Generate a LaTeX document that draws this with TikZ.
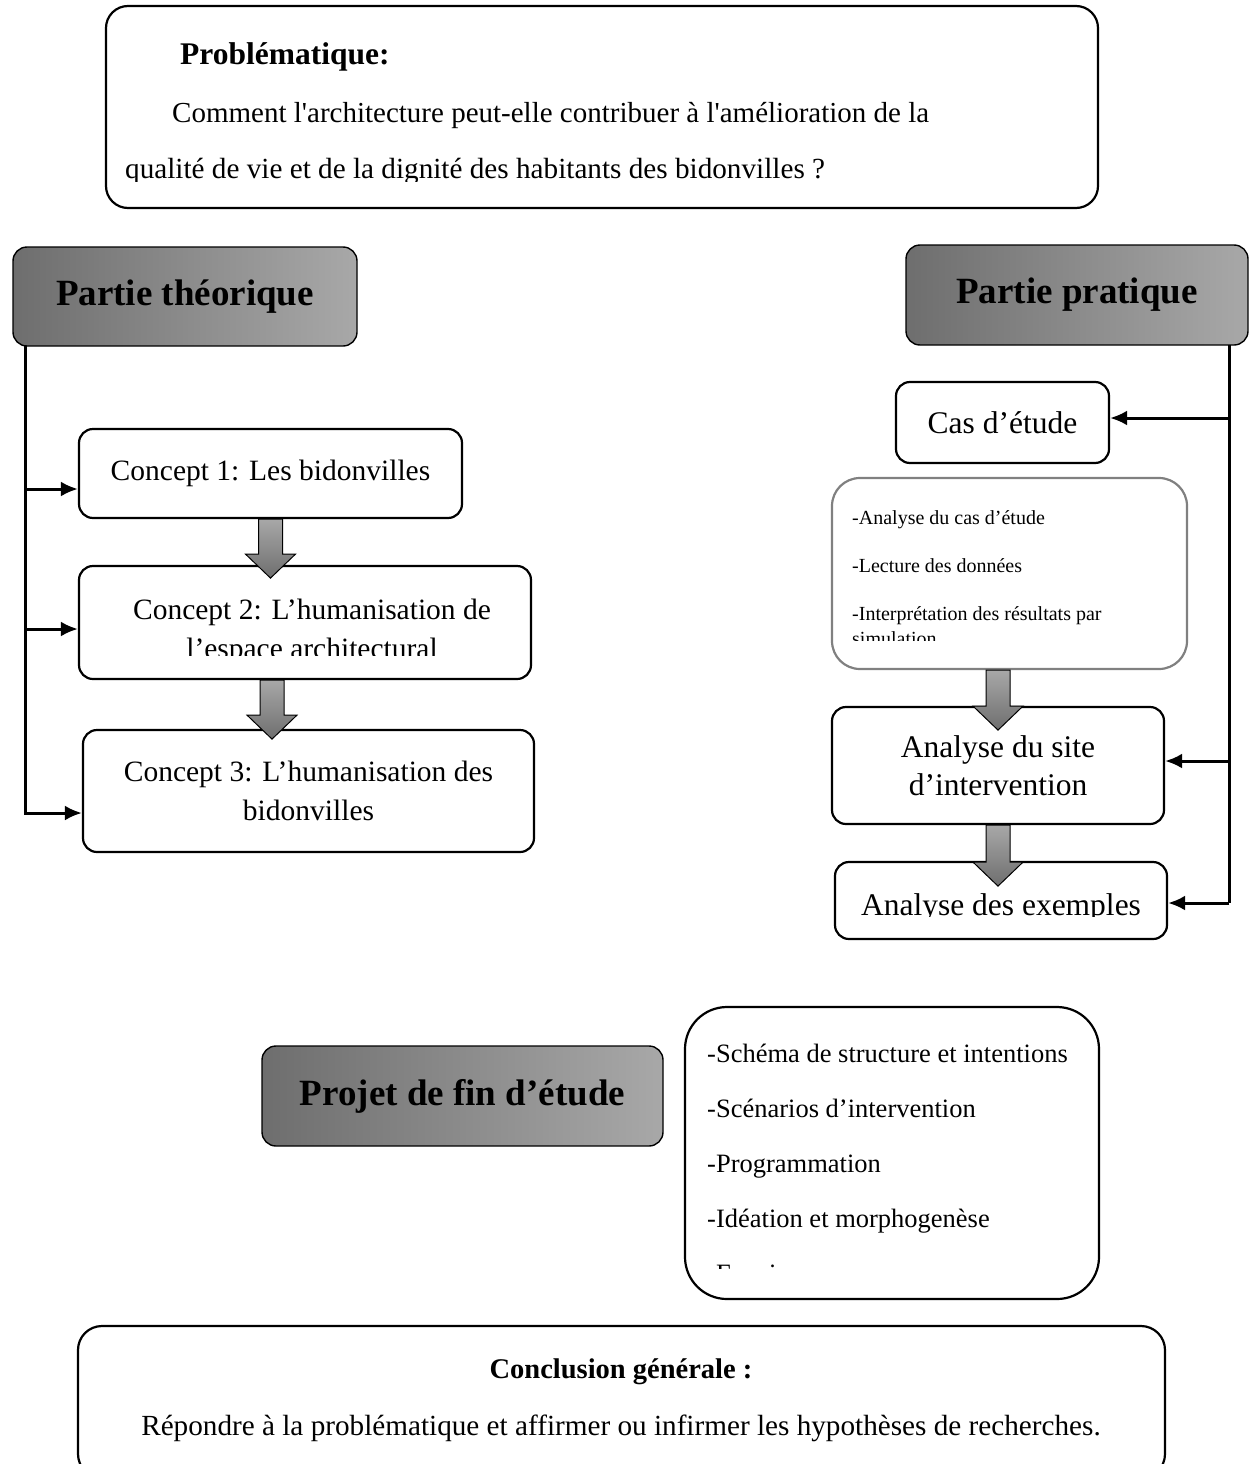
\documentclass[tikz,border=0pt]{standalone}
\usepackage{fontspec}
\setmainfont{Liberation Serif}[Ligatures=TeXOff]
\usepackage{tikz}
\usetikzlibrary{arrows.meta, calc}
\definecolor{headL}{RGB}{110,110,110}
\definecolor{headR}{RGB}{168,168,168}
\tikzstyle{box} = [draw, line width=2.2pt, rounded corners=14pt, inner sep=0pt]
\tikzstyle{headbox} = [draw, line width=1.4pt, rounded corners=14pt, left color=headL, right color=headR, font=\fontsize{37}{44}\selectfont\bfseries]
\tikzstyle{body} = [font=\fontsize{29.5}{39}\selectfont, align=center, inner sep=0pt]
\tikzstyle{link} = [-{Latex[length=17pt,width=15pt]}, line width=3pt]
\tikzstyle{trunk} = [line width=3pt]
\tikzstyle{bigarrow} = [draw, line width=1pt, top color=headR, bottom color=headL]
% grey block arrow: #1 top, #2 tip
\newcommand{\flowarrow}[2]{\draw[bigarrow] ($(#1)+(-12,0)$) -- ($(#2)+(-12,-24)$) -- ($(#2)+(-25,-24)$) -- (#2) -- ($(#2)+(25,-24)$) -- ($(#2)+(12,-24)$) -- ($(#1)+(12,0)$) -- cycle;}

\begin{document}
\begin{tikzpicture}[x=1pt,y=-1pt]
\useasboundingbox (0,0) rectangle (1249,1464);
% problematique
\node[box, rounded corners=22pt, minimum width=992pt, minimum height=202pt] (prob) at (602,107) {};
\node[anchor=base west, inner sep=0pt, font=\fontsize{31.5}{36}\selectfont\bfseries] (probt) at (180,65) {Problématique:};
\node[anchor=base west, inner sep=0pt, font=\fontsize{29}{34}\selectfont] (probl1) at (172,122) {Comment l'architecture peut-elle contribuer à l'amélioration de la};
\begin{scope}
\clip (106,6) rectangle (1098,181);
\node[anchor=base west, inner sep=0pt, font=\fontsize{29.2}{34}\selectfont] (probl2) at (125,178) {qualité de vie et de la dignité des habitants des bidonvilles ?};
\end{scope}

% partie theorique
\node[headbox, minimum width=344pt, minimum height=99pt] (theo) at (185,296.5) {Partie théorique};
\node[box, minimum width=383pt, minimum height=89pt, body] (c1) at (270.5,473.5) {Concept 1: Les bidonvilles};
\node[box, minimum width=452pt, minimum height=113pt] (c2) at (305,622.5) {};
\node[body, anchor=base] (c2a) at (312,619) {Concept 2: L’humanisation de};
\begin{scope}
\clip (80,600) rectangle (530,655);
\node[body, anchor=base] (c2b) at (312,658) {l’espace architectural};
\end{scope}
\node[box, minimum width=451pt, minimum height=122pt, body] (c3) at (308.5,791) {Concept 3: L’humanisation des\\bidonvilles};

\coordinate (l0) at (25,346);
\coordinate (l1) at (25,489);
\coordinate (l2) at (25,629);
\coordinate (l3) at (25,813);
\coordinate (l4) at (25,815);
\draw[trunk] (l0) -- (l4);
\draw[link] (l1) -- (l1 -| c1.west);
\draw[link] (l2) -- (l2 -| c2.west);
\draw[link] (l3) -- (l3 -| c3.west);

\coordinate (f1) at ($(c1.south)+(0,59)$);
\flowarrow{c1.south}{f1}
\coordinate (s2) at ($(c2.south)+(-33,0)$);
\coordinate (f2) at ($(s2)+(0,59)$);
\flowarrow{s2}{f2}

% partie pratique
\node[headbox, minimum width=342pt, minimum height=100pt] (pra) at (1077,295) {Partie pratique};
\node[box, minimum width=213pt, minimum height=81pt, body, font=\fontsize{31.5}{38}\selectfont] (cas) at (1002.5,422.5) {Cas d’étude};
\node[box, draw=gray, line width=2.2pt, rounded corners=28pt, minimum width=355pt, minimum height=191pt] (lst) at (1009.5,573.5) {};
\begin{scope}[every node/.style={anchor=base west, inner sep=0pt, font=\fontsize{20}{24}\selectfont}]
\node (lst1) at (852,524) {-Analyse du cas d’étude};
\node (lst2) at (852,572) {-Lecture des données};
\node (lst3) at (852,620) {-Interprétation des résultats par};
\clip (840,600) rectangle (1180,640);
\node (lst4) at (852,645) {simulation};
\end{scope}
\node[box, minimum width=332pt, minimum height=117pt, body, font=\fontsize{31.5}{38}\selectfont] (site) at (998,765.5) {Analyse du site\\d’intervention};
\node[box, minimum width=332pt, minimum height=77pt] (ex) at (1001,900.5) {};
\begin{scope}
\clip (840,870) rectangle (1160,916);
\node[body, anchor=base, font=\fontsize{31.5}{38}\selectfont] (ext) at (1001,915) {Analyse des exemples};
\end{scope}

\coordinate (r0) at (1229,345);
\coordinate (r1) at (1229,418);
\coordinate (r2) at (1229,761);
\coordinate (r3) at (1229,903);
\draw[trunk] (r0) -- (r3);
\draw[link] (r1) -- (r1 -| cas.east);
\draw[link] (r2) -- (r2 -| site.east);
\draw[link] (r3) -- (r3 -| ex.east);

\coordinate (s3) at (site.north |- lst.south);
\coordinate (f3) at ($(s3)+(0,60)$);
\flowarrow{s3}{f3}
\coordinate (f4) at ($(site.south)+(0,61)$);
\flowarrow{site.south}{f4}

% projet
\node[headbox, minimum width=401pt, minimum height=100pt] (proj) at (462.5,1096) {Projet de fin d’étude};
\node[box, rounded corners=42pt, minimum width=414pt, minimum height=292pt] (pl) at (892,1153) {};
\begin{scope}[every node/.style={anchor=base west, inner sep=0pt, font=\fontsize{26.5}{30}\selectfont}]
\node (pl1) at (707,1062) {-Schéma de structure et intentions};
\node (pl2) at (707,1117) {-Scénarios d’intervention};
\node (pl3) at (707,1172) {-Programmation};
\node (pl4) at (707,1227) {-Idéation et morphogenèse};
\clip (690,1240) rectangle (1090,1268);
\node (pl5) at (707,1282) {-Esquisse};
\end{scope}

% conclusion
\node[box, rounded corners=24pt, minimum width=1087pt, minimum height=152pt] (concl) at (621.5,1402) {};
\node[anchor=base, inner sep=0pt, font=\fontsize{28.5}{34}\selectfont\bfseries] (conclt) at (621,1378) {Conclusion générale :};
\node[anchor=base, inner sep=0pt, font=\fontsize{29.2}{34}\selectfont] (concll) at (621,1435) {Répondre à la problématique et affirmer ou infirmer les hypothèses de recherches.};
\end{tikzpicture}
\end{document}
